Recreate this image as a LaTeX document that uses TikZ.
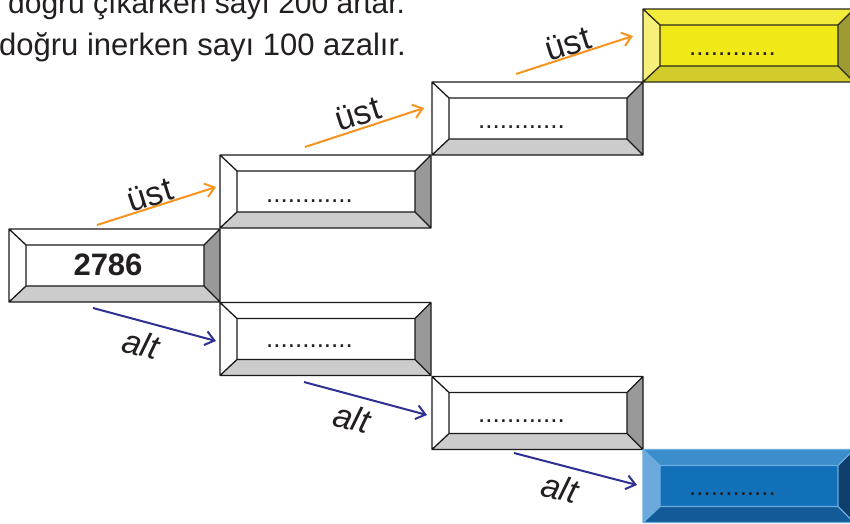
\documentclass[tikz,border=0pt]{standalone}
\usepackage{fontspec}
\setmainfont{Liberation Sans}
\usetikzlibrary{arrows.meta,calc}
\definecolor{txt}{HTML}{231F20}
\definecolor{wtop}{HTML}{FFFFFF}
\definecolor{wbot}{HTML}{CCCCCC}
\definecolor{wright}{HTML}{999999}
\definecolor{wline}{HTML}{1A1A1A}
\definecolor{ytop}{HTML}{F3EC3B}
\definecolor{yleft}{HTML}{F6F07A}
\definecolor{yin}{HTML}{F1E917}
\definecolor{ybot}{HTML}{D1CB2C}
\definecolor{yright}{HTML}{9E9B32}
\definecolor{yline}{HTML}{2A2A1A}
\definecolor{btop}{HTML}{3C8DCC}
\definecolor{bleft}{HTML}{6CAADD}
\definecolor{bin}{HTML}{1270B9}
\definecolor{bbot}{HTML}{135A98}
\definecolor{bright}{HTML}{103F6D}
\definecolor{bline}{HTML}{6AAEE0}
\definecolor{orangearr}{HTML}{F7941D}
\definecolor{bluearr}{HTML}{2E3192}
\newcommand\bevbox[8]{%
  \node[boxshape] (#1) at (#2) {};
  \coordinate (#1-NW) at ($(#1.north west)+(17,16)$);
  \coordinate (#1-NE) at ($(#1.north east)+(-16,16)$);
  \coordinate (#1-SE) at ($(#1.south east)+(-16,-16)$);
  \coordinate (#1-SW) at ($(#1.south west)+(17,-16)$);
  \fill[#5] (#1-NW) rectangle (#1-SE);
  \fill[#3] (#1.north west) -- (#1.north east) -- (#1-NE) -- (#1-NW) -- cycle;
  \fill[#4] (#1.north west) -- (#1-NW) -- (#1-SW) -- (#1.south west) -- cycle;
  \fill[#6] (#1.south west) -- (#1-SW) -- (#1-SE) -- (#1.south east) -- cycle;
  \fill[#7] (#1.north east) -- (#1-NE) -- (#1-SE) -- (#1.south east) -- cycle;
  \draw[bevline, draw=#8] (#1.north west) rectangle (#1.south east)
    (#1-NW) rectangle (#1-SE)
    (#1.north west) -- (#1-NW) (#1.north east) -- (#1-NE)
    (#1.south west) -- (#1-SW) (#1.south east) -- (#1-SE);
}
\begin{document}
\begin{tikzpicture}[x=1pt,y=-1pt,
  boxshape/.style={rectangle, minimum width=211pt, minimum height=73pt, inner sep=0pt, outer sep=0pt, draw=none},
  bevline/.style={line width=1.3pt, line join=round},
  hdr/.style={text=txt, inner sep=0pt, font=\fontsize{30}{36}\selectfont},
  lab/.style={text=txt, inner sep=0pt, font=\fontsize{34}{40}\selectfont},
  altlab/.style={lab, font=\itshape\fontsize{34}{40}\selectfont},
  dots/.style={text=txt, inner sep=0pt, anchor=base, font=\fontsize{26}{30}\selectfont},
  uarrow/.style={draw=orangearr, line width=2pt, -{Straight Barb[length=9pt,width=14pt]}},
  aarrow/.style={draw=bluearr, line width=2pt, -{Straight Barb[length=9pt,width=14pt]}}
]
\clip (0,0) rectangle (850,523);
\fill[white] (0,0) rectangle (850,523);

% header
\node[hdr, anchor=base west] (h1) at (8,13) {doğru çıkarken sayı 200 artar.};
\node[hdr, anchor=base west, font=\fontsize{31}{36}\selectfont] (h2) at (-1,55) {doğru inerken sayı 100 azalır.};

% boxes (centres)
\bevbox{b1}{114.5,265.5}{wtop}{wtop}{wtop}{wbot}{wright}{wline}
\bevbox{b2}{325.5,191.5}{wtop}{wtop}{wtop}{wbot}{wright}{wline}
\bevbox{b3}{537.5,118.5}{wtop}{wtop}{wtop}{wbot}{wright}{wline}
\bevbox{b5}{325.5,339}{wtop}{wtop}{wtop}{wbot}{wright}{wline}
\bevbox{b6}{537.5,413}{wtop}{wtop}{wtop}{wbot}{wright}{wline}
\bevbox{b4}{748.5,45.5}{ytop}{yleft}{yin}{ybot}{yright}{yline}
\bevbox{b7}{748.5,486}{btop}{bleft}{bin}{bbot}{bright}{bline}

% texts in boxes
\node[text=txt, inner sep=0pt, anchor=base, font=\bfseries\fontsize{31}{36}\selectfont] (n1) at (108,275) {2786};
\node[dots] (d2) at (309.5,202) {............};
\node[dots] (d3) at (521.5,128) {............};
\node[dots] (d4) at (732.5,55) {............};
\node[dots] (d5) at (309.5,347) {............};
\node[dots] (d6) at (521.5,422) {............};
\node[dots] (d7) at (732.5,495) {............};

% up arrows
\coordinate (u1s) at (97,225);  \coordinate (u1e) at (216,187);
\coordinate (u2s) at (305,147); \coordinate (u2e) at (424,108);
\coordinate (u3s) at (516,74);  \coordinate (u3e) at (633,36);
\draw[uarrow] (u1s) -- (u1e);
\draw[uarrow] (u2s) -- (u2e);
\draw[uarrow] (u3s) -- (u3e);
\node[lab, rotate=17.7] (l1) at (150,195) {üst};
\node[lab, rotate=17.7] (l2) at (358,114) {üst};
\node[lab, rotate=17.7] (l3) at (568,44) {üst};

% down arrows
\coordinate (a1s) at (93,308);  \coordinate (a1e) at (216,341);
\coordinate (a2s) at (304,382); \coordinate (a2e) at (427,415);
\coordinate (a3s) at (514,453); \coordinate (a3e) at (637,485);
\draw[aarrow] (a1s) -- (a1e);
\draw[aarrow] (a2s) -- (a2e);
\draw[aarrow] (a3s) -- (a3e);
\node[altlab, rotate=-15] (m1) at (141,344) {alt};
\node[altlab, rotate=-15] (m2) at (352,418) {alt};
\node[altlab, rotate=-15] (m3) at (560,488) {alt};
\end{tikzpicture}
\end{document}
